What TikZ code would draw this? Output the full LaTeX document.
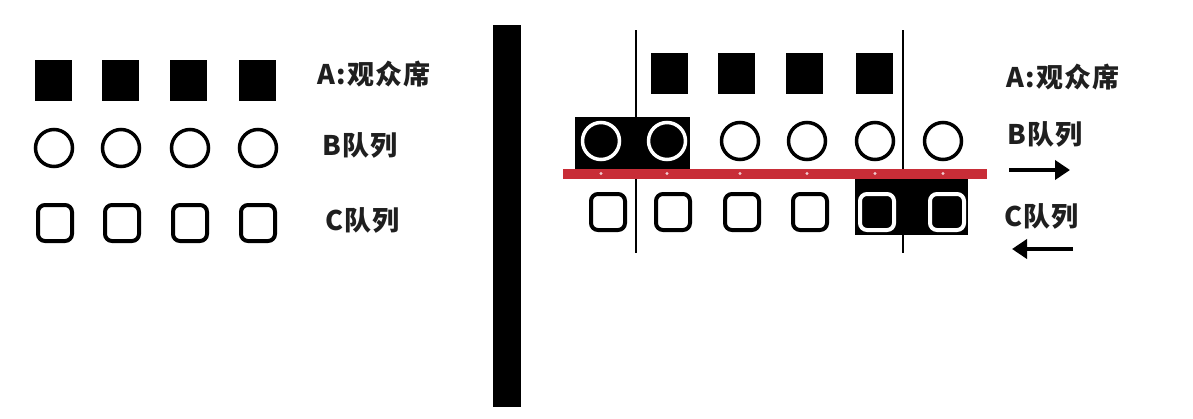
\documentclass[tikz,border=0pt]{standalone}
\usepackage{fontspec}
\newfontfamily\cjk[LetterSpace=5]{Noto Sans CJK SC}
\usetikzlibrary{arrows.meta, positioning}
\definecolor{barred}{RGB}{200,45,55}
\tikzstyle{seat} = [fill=black, minimum width=37pt, minimum height=41pt, inner sep=0pt]
\tikzstyle{bpos} = [circle, draw=black, line width=3.5pt, minimum size=37pt, inner sep=0pt]
\tikzstyle{cpos} = [draw=black, line width=4pt, rounded corners=7pt, minimum width=34pt, minimum height=36pt, inner sep=0pt]
\tikzstyle{rowtext} = [anchor=west, inner sep=0pt, text=black!88, font=\cjk\bfseries\fontsize{27}{27}\selectfont]
\tikzstyle{arrow} = [line width=4pt, -{Triangle[length=15pt,width=19pt]}]

\begin{document}
\begin{tikzpicture}[x=1pt, y=-1pt]
        \useasboundingbox (0,0) rectangle (1193,418);

        % Left: start
        \foreach \x [count=\i] in {53,120,188,257}
          \node[seat] (la\i) at (\x,80) {};
        \foreach \x [count=\i] in {54,121,190,258}
          \node[bpos] (lb\i) at (\x,148) {};
        \foreach \x [count=\i] in {55,122,190,258}
          \node[cpos] (lc\i) at (\x,223) {};
        \node[rowtext] (lA) at (317,74) {A:观众席};
        \node[rowtext] (lB) at (322,145) {B队列};
        \node[rowtext] (lC) at (325,220) {C队列};

        % Divider
        \fill[black] (493,25) rectangle (521,407);

        % Right: stage edges
        \draw[line width=2pt] (636,30) -- (636,253);
        \draw[line width=2pt] (903,30) -- (903,253);

        % Highlight boxes
        \fill[black] (575,117) rectangle (690,170);
        \fill[black] (855,179) rectangle (968,235);

        % Right rows
        \foreach \x [count=\i] in {669,736,804,874}
          \node[seat] (ra\i) at (\x,73.5) {};
        \foreach \x/\c [count=\i] in {601/white,667/white,740/black,807/black,875/black,943/black}
          \node[bpos, draw=\c] (rb\i) at (\x,141) {};
        \foreach \x/\c [count=\i] in {608/black,673/black,742/black,810/black,877/white,947/white}
          \node[cpos, draw=\c] (rc\i) at (\x,212) {};

        % Red line
        \fill[barred] (563,169) rectangle (987,179);
        \foreach \i in {1,...,6}
          \fill[white!75!barred] (rb\i.center |- 0,173.5) circle (1.6pt);

        % Right labels
        \node[rowtext] (rA) at (1006,77) {A:观众席};
        \node[rowtext] (rB) at (1007,134) {B队列};
        \node[rowtext] (rC) at (1004,216) {C队列};
        \coordinate (bs) at (1009,170);
        \coordinate (be) at (1070,170);
        \coordinate (cs) at (1073,249);
        \coordinate (ce) at (1012,249);
        \draw[arrow] (bs) -- (be);
        \draw[arrow] (cs) -- (ce);
\end{tikzpicture}
\end{document}
